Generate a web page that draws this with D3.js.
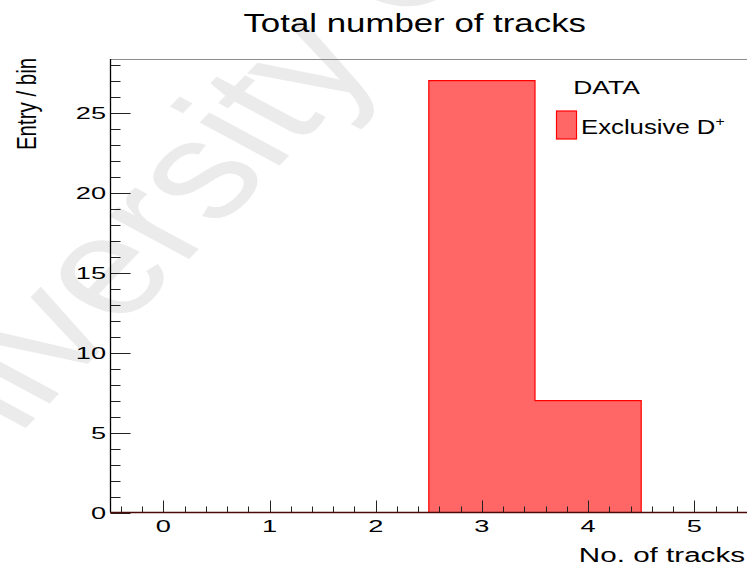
<!DOCTYPE html>
<html>
<head>
<meta charset="utf-8">
<script src="https://cdn.jsdelivr.net/npm/d3@7"></script>
<style>
  html, body { margin: 0; padding: 0; background: #fff; }
  svg { display: block; }
  text { font-family: "Liberation Sans", Arial, Helvetica, sans-serif; fill: #000; }
</style>
</head>
<body>
<svg id="chart" width="747" height="567"></svg>
<script>
// Histogram contents: one bin per track multiplicity
const binCenters = [0, 1, 2, 3, 4, 5];
const binCounts  = [0, 0, 0, 27, 7, 0];
const binWidth = 1;

const xTickValues = [0, 1, 2, 3, 4, 5];
const yTickValues = [0, 5, 10, 15, 20, 25];

const titleText = "Total number of tracks";
const xLabel = "No. of tracks";
const yLabel = "Entry / bin";
const legendHeader = "DATA";
const legendEntry = "Exclusive D";
const legendEntrySup = "+";
const watermarkText = "University College";

const svg = d3.select("#chart");

// Frame geometry
const frameLeft = 110.5, frameBottom = 512.5, frameTop = 59;
const x = d3.scaleLinear().domain([-0.5, 5.5]).range([110.2, 747.4]);
const yMax = d3.max(binCounts) * 1.05;
const y = d3.scaleLinear().domain([0, yMax]).range([frameBottom, frameTop]);

// Watermark behind everything
svg.append("text")
  .attr("transform", "translate(-97,555) scale(1.34,1) rotate(-54.2)")
  .style("font-size", "139px")
  .style("fill", "#ebebeb")
  .text(watermarkText);

// Frame top edge
svg.append("line")
  .attr("x1", frameLeft).attr("x2", 747)
  .attr("y1", frameTop + 0.5).attr("y2", frameTop + 0.5)
  .attr("stroke", "#8c8c8c").attr("stroke-width", 1);

// Filled histogram
const bins = binCenters.map((c, i) => ({ x0: c - binWidth / 2, x1: c + binWidth / 2, n: binCounts[i] }));
svg.append("g").selectAll("rect")
  .data(bins.filter(b => b.n > 0))
  .join("rect")
  .attr("x", d => x(d.x0))
  .attr("width", d => x(d.x1) - x(d.x0))
  .attr("y", d => y(d.n))
  .attr("height", d => y(0) - y(d.n))
  .attr("fill", "#ff6666");

// Step outline of the histogram
const outline = [];
bins.forEach(b => { outline.push([b.x0, b.n]); outline.push([b.x1, b.n]); });
svg.append("path")
  .datum(outline)
  .attr("fill", "none")
  .attr("stroke", "#ff0000")
  .attr("stroke-width", 1.2)
  .attr("d", d3.line().x(d => x(d[0])).y(d => y(d[1])));

// Y axis: ticks pointing into the frame
const yMinor = d3.range(0, Math.floor(yMax) + 1, 1);
const gy = svg.append("g");
gy.selectAll("line.minor")
  .data(yMinor)
  .join("line")
  .attr("x1", frameLeft).attr("x2", d => frameLeft + (d % 5 === 0 ? 20 : 10))
  .attr("y1", d => Math.round(y(d)) + 0.5).attr("y2", d => Math.round(y(d)) + 0.5)
  .attr("stroke", "#222").attr("stroke-width", 1);
gy.append("line")
  .attr("x1", frameLeft).attr("x2", frameLeft)
  .attr("y1", frameTop).attr("y2", frameBottom)
  .attr("stroke", "#000").attr("stroke-width", 1.3);
gy.selectAll("text")
  .data(yTickValues)
  .join("text")
  .attr("text-anchor", "end")
  .attr("transform", d => `translate(106,${y(d) + 6}) scale(1.6,1)`)
  .style("font-size", "17px")
  .text(d => d);

// X axis: ticks pointing up
const xMinor = d3.range(-0.4, 5.5, 0.2).map(v => Math.round(v * 10) / 10);
const gx = svg.append("g");
gx.selectAll("line.tick")
  .data(xMinor)
  .join("line")
  .attr("x1", d => Math.round(x(d)) + 0.5).attr("x2", d => Math.round(x(d)) + 0.5)
  .attr("y1", frameBottom).attr("y2", d => frameBottom - (Math.abs(d - Math.round(d)) < 1e-6 ? 12 : 6))
  .attr("stroke", "#222").attr("stroke-width", 1);
gx.append("line")
  .attr("x1", frameLeft).attr("x2", 747)
  .attr("y1", frameBottom).attr("y2", frameBottom)
  .attr("stroke", "#4a0808").attr("stroke-width", 1.5);
gx.selectAll("text")
  .data(xTickValues)
  .join("text")
  .attr("text-anchor", "middle")
  .attr("transform", d => `translate(${x(d)},531.7) scale(1.6,1)`)
  .style("font-size", "17px")
  .text(d => d);

// Axis titles
svg.append("text")
  .attr("text-anchor", "end")
  .attr("transform", "translate(745,561.7) scale(1.41,1)")
  .style("font-size", "21px")
  .text(xLabel);
svg.append("text")
  .attr("text-anchor", "middle")
  .attr("transform", "translate(36,104) scale(1.34,1) rotate(-90)")
  .style("font-size", "20.5px")
  .text(yLabel);

// Title
svg.append("text")
  .attr("text-anchor", "middle")
  .attr("transform", "translate(414.7,31.7) scale(1.34,1)")
  .style("font-size", "26px")
  .text(titleText);

// Legend
svg.append("text")
  .attr("transform", "translate(573.3,94.3) scale(1.39,1)")
  .style("font-size", "19px")
  .text(legendHeader);
svg.append("rect")
  .attr("x", 556.5).attr("y", 111)
  .attr("width", 20).attr("height", 28)
  .attr("fill", "#ff6666").attr("stroke", "#ff0000").attr("stroke-width", 1.2);
const entry = svg.append("text")
  .attr("transform", "translate(581,134) scale(1.32,1)")
  .style("font-size", "19.5px");
entry.append("tspan").text(legendEntry);
entry.append("tspan").attr("dy", -8).style("font-size", "12px").text(legendEntrySup);
</script>
</body>
</html>
